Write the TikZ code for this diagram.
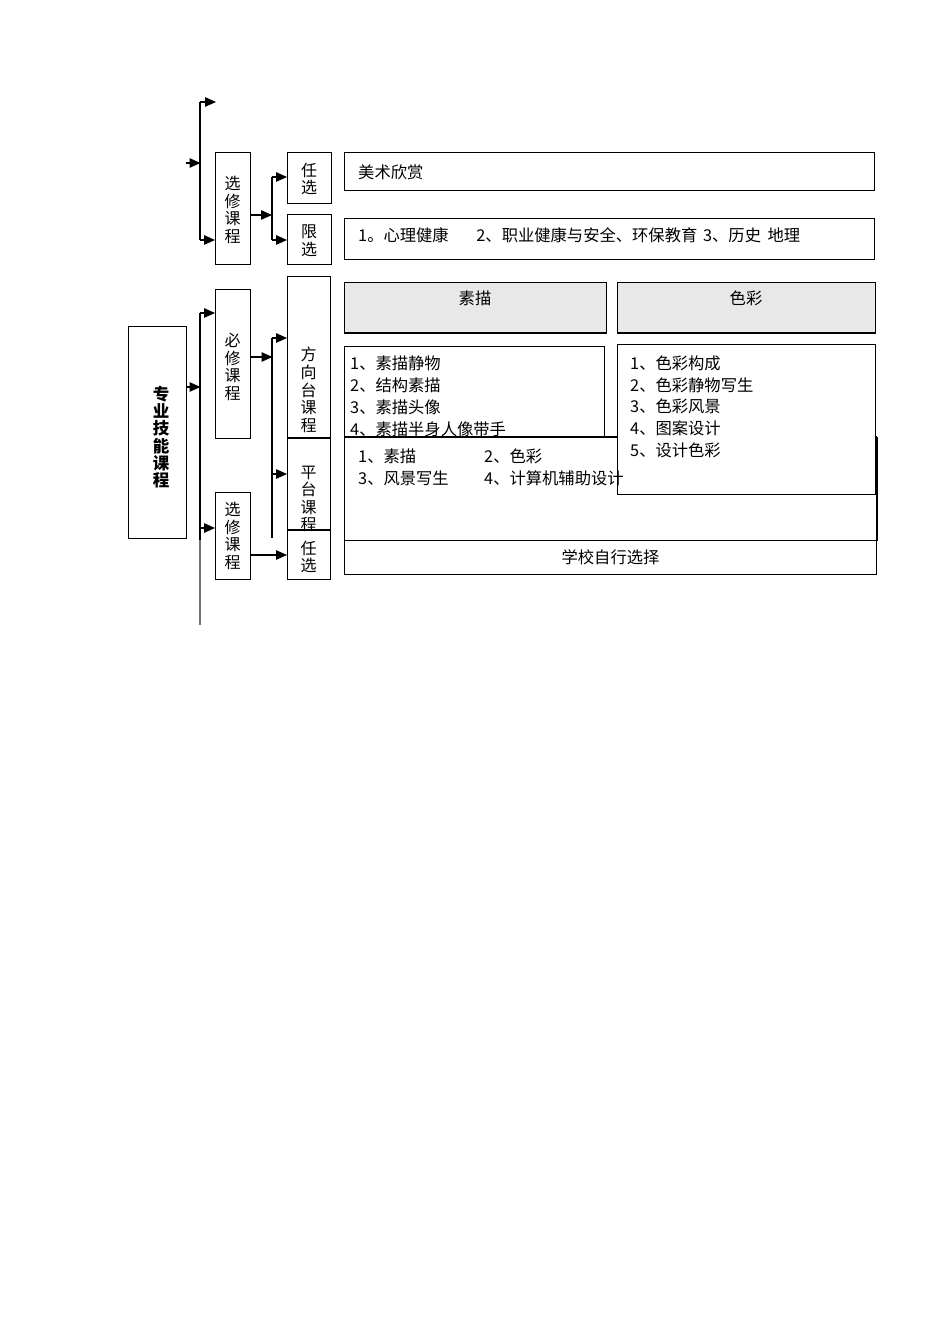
\documentclass[tikz,border=0pt]{standalone}
\usepackage{fontspec}
\newfontfamily\cjk{Noto Sans CJK SC}
\usetikzlibrary{arrows.meta}
\begin{document}
\begin{tikzpicture}[x=1pt,y=-1pt,
  box/.style={draw=black,line width=1pt,fill=white,anchor=north west,inner sep=0pt},
  hdr/.style={box,fill=black!9},
  vtxt/.style={font=\cjk\fontsize{16}{17.6}\selectfont,align=center,inner sep=0pt},
  ltxt/.style={font=\cjk\fontsize{16.3}{18}\selectfont,anchor=west,inner sep=0pt},
  ctxt/.style={font=\cjk\fontsize{16.3}{18}\selectfont,inner sep=0pt},
  arr/.style={line width=1.3pt,-{Triangle[length=11pt,width=9.5pt]}},
  ln/.style={line width=1.3pt},
  thick line/.style={line width=2pt}]
\useasboundingbox (0,0) rectangle (950,1344);

% left column boxes
\node[box,minimum width=58pt,minimum height=212pt] (main) at (128,326) {};
\node[box,minimum width=35pt,minimum height=112pt] (xu) at (215,152) {};
\node[box,minimum width=44pt,minimum height=51pt] (ry1) at (287,152) {};
\node[box,minimum width=44pt,minimum height=50pt] (xy) at (287,214) {};
\node[box,minimum width=35pt,minimum height=149pt] (bx) at (215,289) {};
\node[box,minimum width=35pt,minimum height=87pt] (xl) at (215,492) {};
\node[box,minimum width=43pt,minimum height=161pt] (fx) at (287,276) {};
\node[box,minimum width=43pt,minimum height=92pt] (ptf) at (287,437) {};
\node[box,minimum width=43pt,minimum height=50pt] (ry2) at (287,529) {};

% vertical texts
\node[vtxt,font=\cjk\bfseries\fontsize{16.5}{17.3}\selectfont] (tmain) at (161,437) {专\\业\\技\\能\\课\\程};
\node[vtxt] (txu) at (232.5,210) {选\\修\\课\\程};
\node[vtxt] (try1) at (309,179) {任\\选};
\node[vtxt] (txy) at (309,241) {限\\选};
\node[vtxt] (tbx) at (232.5,367) {必\\修\\课\\程};
\node[vtxt] (txl) at (232.5,536) {选\\修\\课\\程};
\node[vtxt] (tfx) at (308.5,390) {方\\向\\台\\课\\程};
\node[vtxt] (tptf) at (308.5,499) {平\\台\\课\\程};
\node[vtxt] (try2) at (308.5,557) {任\\选};
\draw[thick line] (fx.south west) -- (fx.south east);
\draw[thick line] (ptf.south west) -- (ptf.south east);

% content boxes
\node[box,minimum width=530pt,minimum height=38pt] (c1) at (344,152) {};
\node[ltxt] (tc1) at (358,172) {美术欣赏};
\node[box,minimum width=530pt,minimum height=41pt] (c2) at (344,218) {};
\node[ltxt] (tc2) at (358,235) {1。心理健康\hspace{1.7em}2、职业健康与安全、环保教育\hspace{0.35em}3、历史\hspace{0.4em}地理};

\node[hdr,minimum width=262pt,minimum height=50pt] (h1) at (344,282) {};
\draw[line width=2.5pt] (h1.south west) -- (h1.south east);
\node[ctxt] (th1) at (475,298) {素描};
\node[hdr,minimum width=258pt,minimum height=50pt] (h2) at (617,282) {};
\draw[line width=2.5pt] (h2.south west) -- (h2.south east);
\node[ctxt] (th2) at (746,298) {色彩};

\node[box,minimum width=260pt,minimum height=100pt] (l1) at (344,346) {};
\node[ltxt] (s1) at (350,363) {1、素描静物};
\node[ltxt] (s2) at (350,385) {2、结构素描};
\node[ltxt] (s3) at (350,407) {3、素描头像};
\node[ltxt] (s4) at (350,429) {4、素描半身人像带手};

\node[box,minimum width=532pt,minimum height=103pt] (pc) at (344,437) {};
\draw[thick line] (pc.north west) -- (pc.north east);
\draw[thick line] (pc.north east) -- (pc.south east);

\node[box,minimum width=258pt,minimum height=150pt] (l2) at (617,344) {};
\node[ltxt] (r1) at (630,363) {1、色彩构成};
\node[ltxt] (r2) at (630,385) {2、色彩静物写生};
\node[ltxt] (r3) at (630,406) {3、色彩风景};
\node[ltxt] (r4) at (630,428) {4、图案设计};
\node[ltxt] (r5) at (630,450) {5、设计色彩};

\node[ltxt] (p1) at (358,456) {1、素描};
\node[ltxt] (p2) at (484,456) {2、色彩};
\node[ltxt] (p3) at (358,478) {3、风景写生};
\node[ltxt] (p4) at (484,478) {4、计算机辅助设计};

\node[box,minimum width=532pt,minimum height=34pt] (sc) at (344,540) {};
\node[ctxt] (tsc) at (sc.center) {学校自行选择};

% upper connectors
\coordinate (ua) at (200,102);
\coordinate (ub) at (200,240);
\coordinate (utop) at (216,102);
\coordinate (uin) at (186,163);
\coordinate (uinE) at (200.5,163);
\draw[ln] (ua) -- (ub);
\draw[arr] (ua) -- (utop);
\draw[arr] (uin) -- (uinE);
\draw[arr] (ub) -- (xu.west |- ub);
\coordinate (uj) at (272,215);
\draw[arr] (xu.east |- uj) -- (uj);
\coordinate (ut1) at (272,177);
\coordinate (ut2) at (272,240);
\draw[ln] (ut1) -- (ut2);
\draw[arr] (ut1) -- (ry1.west |- ut1);
\draw[arr] (ut2) -- (xy.west |- ut2);

% lower connectors
\coordinate (la) at (200,313);
\coordinate (lb) at (200,540);
\coordinate (lc) at (200,625);
\draw[ln] (la) -- (lb);
\draw[line width=1.3pt,black!55] (lb) -- (lc);
\coordinate (lm) at (200.5,387);
\draw[arr] (main.east |- lm) -- (lm);
\draw[arr] (la) -- (bx.west |- la);
\coordinate (lx) at (200,528);
\draw[arr] (lx) -- (xl.west |- lx);
\coordinate (bj) at (272.5,357);
\draw[arr] (bx.east |- bj) -- (bj);
\coordinate (lt1) at (272,338);
\coordinate (lt2) at (272,538);
\coordinate (lt3) at (272,474);
\draw[ln] (lt1) -- (lt2);
\draw[arr] (lt1) -- (fx.west |- lt1);
\draw[arr] (lt3) -- (ptf.west |- lt3);
\coordinate (xj) at (250,555);
\draw[arr] (xl.east |- xj) -- (ry2.west |- xj);
\end{tikzpicture}
\end{document}
